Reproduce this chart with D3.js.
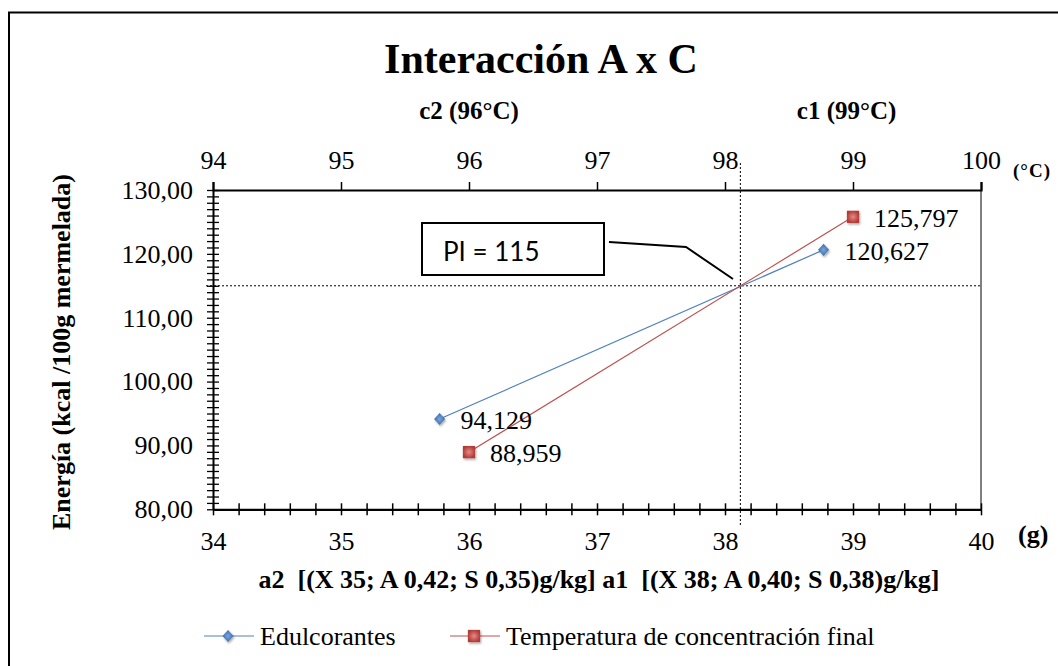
<!DOCTYPE html>
<html><head><meta charset="utf-8">
<script src="https://cdn.jsdelivr.net/npm/d3@7"></script>
<style>body{margin:0;background:#fff}svg{display:block}text{font-family:"Liberation Serif","Times New Roman",serif;fill:#000}</style>
</head><body><svg id="c" width="1058" height="666"></svg>
<script>
const title = "Interacción A x C";
const seriesNames = ["Edulcorantes", "Temperatura de concentración final"];
const seriesColors = ["#4F81BD", "#C0504D"];
// Edulcorantes on bottom (g) axis
const edulX = [35.77, 38.77];
const edulY = [94.129, 120.627];
// Temperatura on top (°C) axis
const tempX = [96, 99];
const tempY = [88.959, 125.797];
const bottomTicks = [34, 35, 36, 37, 38, 39, 40];
const topTicks = [94, 95, 96, 97, 98, 99, 100];
const yTicks = [80, 90, 100, 110, 120, 130];
const piValue = 115;
const piX = 38.12;
const topLabels = [{t: "c2 (96°C)", x: 96}, {t: "c1 (99°C)", x: 98.95}];
const yTitle = "Energía (kcal /100g mermelada)";
const xTitle = "a2  [(X 35; A 0,42; S 0,35)g/kg] a1  [(X 38; A 0,40; S 0,38)g/kg]";

const svg = d3.select("#c");
const L = 213, R = 981, T = 190, B = 509.3;
const x = d3.scaleLinear().domain([34, 40]).range([L, R]);
const xt = d3.scaleLinear().domain([94, 100]).range([L, R]);
const y = d3.scaleLinear().domain([80, 130]).range([B, T]);
const comma = s => s.replace(".", ",");
const FS = 26;

// outer border
svg.append("rect").attr("x", 9).attr("y", 12.5).attr("width", 1100).attr("height", 700)
  .attr("fill", "none").attr("stroke", "#000").attr("stroke-width", 2);

// title
svg.append("text").attr("x", 541).attr("y", 73).attr("text-anchor", "middle")
  .attr("font-size", 42).attr("font-weight", "bold").text(title);
topLabels.forEach(d => svg.append("text").attr("x", xt(d.x)).attr("y", 119).attr("text-anchor", "middle")
  .attr("font-size", 25).attr("font-weight", "bold").text(d.t));

// dotted reference lines
svg.append("line").attr("x1", x(piX)).attr("x2", x(piX)).attr("y1", 163).attr("y2", 527)
  .attr("stroke", "#000").attr("stroke-width", 1).attr("stroke-dasharray", "2,2");
svg.append("line").attr("x1", 206).attr("x2", R).attr("y1", y(piValue)).attr("y2", y(piValue))
  .attr("stroke", "#000").attr("stroke-width", 1).attr("stroke-dasharray", "2,2");

// right border of plot
svg.append("line").attr("x1", R).attr("x2", R).attr("y1", T).attr("y2", B).attr("stroke", "#000").attr("stroke-width", 1);

// top axis
const gTop = svg.append("g").attr("transform", `translate(0,${T})`)
  .call(d3.axisTop(xt).tickValues(topTicks).tickSize(8).tickPadding(13).tickFormat(d3.format("d")));
gTop.select(".domain").attr("stroke-width", 2.2);
gTop.selectAll(".tick line").attr("stroke-width", 1.5);
gTop.selectAll("text").attr("font-size", FS).attr("font-family", "Liberation Serif");
svg.append("text").attr("x", 1013).attr("y", 177).attr("font-size", 19).attr("font-weight", "bold")
  .attr("letter-spacing", 1).text("(°C)");

// bottom axis with minor ticks
const gBot = svg.append("g").attr("transform", `translate(0,${B})`);
gBot.call(d3.axisBottom(x).tickValues(d3.range(34, 40.001, 0.2)).tickSize(0).tickFormat(""));
gBot.select(".domain").attr("stroke-width", 2.2);
gBot.selectAll(".tick line").remove();
gBot.selectAll(".tick").append("line").attr("y1", -6).attr("y2", 6).attr("stroke", "#000").attr("stroke-width", 1.5);
const gBotL = svg.append("g").attr("transform", `translate(0,${B})`)
  .call(d3.axisBottom(x).tickValues(bottomTicks).tickSize(0).tickPadding(22).tickFormat(d3.format("d")));
gBotL.select(".domain").remove();
gBotL.selectAll("text").attr("font-size", FS).attr("font-family", "Liberation Serif");
svg.append("text").attr("x", 1018).attr("y", 543).attr("font-size", 26).attr("font-weight", "bold").text("(g)");

// left axis with minor ticks
const gLeft = svg.append("g").attr("transform", `translate(${L},0)`);
gLeft.call(d3.axisLeft(y).tickValues(d3.range(80, 130.01, 1)).tickSize(0).tickFormat(""));
gLeft.select(".domain").attr("stroke-width", 2);
gLeft.selectAll(".tick").append("line").attr("x1", -6).attr("x2", 6).attr("stroke", "#000").attr("stroke-width", 1.3);
const gLeftL = svg.append("g").attr("transform", `translate(${L},0)`)
  .call(d3.axisLeft(y).tickValues(yTicks).tickSize(0).tickPadding(20).tickFormat(d => comma(d3.format(".2f")(d))));
gLeftL.select(".domain").remove();
gLeftL.selectAll("text").attr("font-size", FS).attr("font-family", "Liberation Serif");

// axis titles
svg.append("text").attr("transform", `translate(70,352) rotate(-90)`).attr("text-anchor", "middle")
  .attr("font-size", 26).attr("font-weight", "bold").text(yTitle);
svg.append("text").attr("x", 599).attr("y", 588).attr("text-anchor", "middle")
  .attr("font-size", 26).attr("font-weight", "bold").attr("xml:space", "preserve").text(xTitle);

// series
const defs = svg.append("defs");
const gr = defs.append("radialGradient").attr("id", "rg");
gr.append("stop").attr("offset", "0%").attr("stop-color", "#E58A86");
gr.append("stop").attr("offset", "100%").attr("stop-color", "#B23B37");
const gb = defs.append("radialGradient").attr("id", "bg");
gb.append("stop").attr("offset", "0%").attr("stop-color", "#7AA5DC");
gb.append("stop").attr("offset", "100%").attr("stop-color", "#3B6BAA");
const flt = defs.append("filter").attr("id", "sh").attr("x", "-50%").attr("y", "-50%").attr("width", "200%").attr("height", "200%");
flt.append("feDropShadow").attr("dx", 1).attr("dy", 1.5).attr("stdDeviation", 1.2).attr("flood-opacity", 0.35);

const sEdul = edulX.map((v, i) => ({x: x(v), y: y(edulY[i]), v: edulY[i]}));
const sTemp = tempX.map((v, i) => ({x: xt(v), y: y(tempY[i]), v: tempY[i]}));
const line = d3.line().x(d => d.x).y(d => d.y);
svg.append("path").attr("d", line(sEdul)).attr("fill", "none").attr("stroke", seriesColors[0]).attr("stroke-width", 1.2);
svg.append("path").attr("d", line(sTemp)).attr("fill", "none").attr("stroke", seriesColors[1]).attr("stroke-width", 1.2);

const diamondType = {draw(ctx, size) { const r = Math.sqrt(size) / 2; ctx.moveTo(0, -r * 1.1); ctx.lineTo(r, 0); ctx.lineTo(0, r * 1.1); ctx.lineTo(-r, 0); ctx.closePath(); }};
const diamond = d3.symbol().type(diamondType).size(121);
const square = d3.symbol().type(d3.symbolSquare).size(150);
svg.selectAll(".pe").data(sEdul).join("path").attr("d", diamond).attr("filter", "url(#sh)")
  .attr("transform", d => `translate(${d.x},${d.y})`).attr("fill", "url(#bg)");
svg.selectAll(".pt").data(sTemp).join("path").attr("d", square).attr("filter", "url(#sh)")
  .attr("transform", d => `translate(${d.x},${d.y})`).attr("fill", "url(#rg)");

const fmt3 = v => comma(d3.format(".3f")(v));
svg.selectAll(".le").data(sEdul).join("text").attr("x", d => d.x + 21).attr("y", d => d.y + 10)
  .attr("font-size", FS).text(d => fmt3(d.v));
svg.selectAll(".lt").data(sTemp).join("text").attr("x", d => d.x + 21).attr("y", d => d.y + 10)
  .attr("font-size", FS).text(d => fmt3(d.v));

// PI callout
svg.append("rect").attr("x", 422).attr("y", 223).attr("width", 182).attr("height", 52)
  .attr("fill", "#fff").attr("stroke", "#000").attr("stroke-width", 2);
svg.append("text").attr("x", 443).attr("y", 261).style("font-family", "Lato, 'Open Sans', sans-serif").attr("font-size", 26)
  .text("PI = " + piValue);
svg.append("path").attr("d", d3.line()([[609, 242], [686, 247], [733, 279]]))
  .attr("fill", "none").attr("stroke", "#000").attr("stroke-width", 2);

// legend
const lg = svg.append("g").attr("transform", "translate(0,636)");
[[204, 0], [450, 1]].forEach(([lx, i]) => {
  lg.append("line").attr("x1", lx).attr("x2", lx + 50).attr("y1", 0).attr("y2", 0).attr("stroke", seriesColors[i]).attr("stroke-width", 1.2);
  lg.append("path").attr("d", i === 0 ? diamond : square).attr("transform", `translate(${lx + 24},0)`)
    .attr("filter", "url(#sh)").attr("fill", i === 0 ? "url(#bg)" : "url(#rg)");
  lg.append("text").attr("x", lx + 56).attr("y", 9).attr("font-size", FS).text(seriesNames[i]);
});
</script></body></html>
